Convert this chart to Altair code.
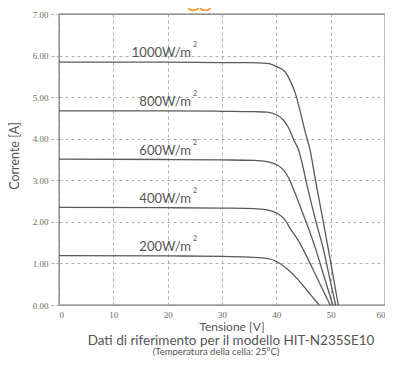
import altair as alt
import pandas as pd

# ---- data ----
irr_labels = ["1000W/m", "800W/m", "600W/m", "400W/m", "200W/m"]
isc = [5.84, 4.67, 3.50, 2.34, 1.19]

v1000 = [0, 20, 30, 35, 38.3, 40.1, 41.6, 42.5, 43.5, 44.4, 45.3, 46.2, 47.3, 48.5, 49.6, 50.5, 51.4]
i1000 = [5.84, 5.84, 5.83, 5.83, 5.81, 5.73, 5.61, 5.41, 5.09, 4.65, 4.17, 3.73, 2.93, 2.10, 1.32, 0.66, 0.0]

v800 = [0, 20, 30, 36, 38.3, 40.1, 41.3, 42.3, 43.2, 44.1, 45.7, 47.2, 48.7, 49.8, 50.9]
i800 = [4.67, 4.67, 4.66, 4.65, 4.64, 4.57, 4.45, 4.25, 3.97, 3.73, 2.85, 2.05, 1.32, 0.66, 0.0]

v600 = [0, 20, 30, 36, 38.3, 40.1, 41.3, 42.3, 43.2, 44.4, 45.9, 47.3, 48.8, 50.4]
i600 = [3.51, 3.50, 3.49, 3.48, 3.45, 3.37, 3.25, 3.05, 2.77, 2.37, 1.85, 1.32, 0.68, 0.0]

v400 = [0, 20, 30, 36, 38.3, 40.1, 41.6, 42.5, 44.0, 45.0, 47.5, 49.9]
i400 = [2.35, 2.34, 2.33, 2.32, 2.29, 2.21, 2.05, 1.85, 1.56, 1.32, 0.65, 0.0]

v200 = [0, 20, 30, 35, 38.3, 40.1, 41.9, 43.8, 45.6, 47.1, 47.9]
i200 = [1.19, 1.18, 1.17, 1.15, 1.12, 1.04, 0.88, 0.64, 0.36, 0.12, 0.0]

x_ticks = [0, 10, 20, 30, 40, 50, 60]
y_ticks = [0, 1, 2, 3, 4, 5, 6, 7]

title_text = "Dipendenza dall'irraggiamento"
x_title = "Tensione [V]"
y_title = "Corrente [A]"
caption1 = "Dati di riferimento per il modello HIT-N235SE10"
caption2 = "(Temperatura della cella: 25°C)"

# ---- build tables ----
rows = []
for name, vs, cs in zip(irr_labels, [v1000, v800, v600, v400, v200],
                        [i1000, i800, i600, i400, i200]):
    for k, (v, c) in enumerate(zip(vs, cs)):
        rows.append({"serie": name, "V": v, "I": c, "order": k})
curves = pd.DataFrame(rows)
labels = pd.DataFrame({"serie": irr_labels, "I": isc})

GRAY = "#5a5a5a"
LABEL_FONT = "Liberation Sans Narrow"
TEXT_FONT = "Lato"

xscale = alt.Scale(domain=[0, 60], nice=False, zero=False)
yscale = alt.Scale(domain=[0, 7], nice=False, zero=False)

base_x = alt.X("V:Q", scale=xscale,
               axis=alt.Axis(values=x_ticks, format="d", title=None, grid=True,
                             gridDash=[3, 3], gridColor="#9a9a9a", gridWidth=0.8,
                             ticks=False, domain=False, labelFont=LABEL_FONT,
                             labelFontSize=9, labelColor="#6a6a6a", labelPadding=5))
base_y = alt.Y("I:Q", scale=yscale,
               axis=alt.Axis(values=y_ticks, format=".2f", title=None, grid=True,
                             gridDash=[3, 3], gridColor="#9a9a9a", gridWidth=0.8,
                             ticks=True, tickDash=[3, 2], tickColor="#9a9a9a",
                             tickSize=8, tickWidth=0.8, domain=False,
                             labelFont=LABEL_FONT, labelFontSize=9,
                             labelColor="#6a6a6a", labelPadding=3))

lines = alt.Chart(curves).mark_line(color=GRAY, strokeWidth=1.3,
                                    interpolate="monotone").encode(
    x=base_x, y=base_y, detail="serie:N", order="order:Q")

lab = alt.Chart(labels).mark_text(align="right", baseline="middle", dy=-9,
                                  font=TEXT_FONT, fontSize=13,
                                  color="#555555").encode(
    x=alt.datum(24.3), y=alt.Y("I:Q", scale=yscale), text="serie:N")
sup = alt.Chart(labels).mark_text(align="left", baseline="middle", dx=2, dy=-17,
                                  font=TEXT_FONT, fontSize=7,
                                  color="#555555").encode(
    x=alt.datum(24.3), y=alt.Y("I:Q", scale=yscale), text=alt.value("2"))

def txt(text, x, y, size, color="#555555", align="center", angle=0, font=TEXT_FONT,
        baseline="middle"):
    return alt.Chart(pd.DataFrame({"t": [text]})).mark_text(
        align=align, baseline=baseline, fontSize=size, color=color, angle=angle,
        font=font).encode(x=alt.value(x), y=alt.value(y), text="t:N")

texts = [
    txt(title_text, -77, -8, 22, color="#F39221", align="left", font="Open Sans",
        baseline="alphabetic"),
    txt(x_title, 173, 312.5, 12),
    txt(caption1, 172, 326.5, 13.5),
    txt(caption2, 157, 337.5, 9.5),
    txt(y_title, -44, 142, 12.5, angle=270),
]

chart = alt.layer(lines, lab, sup, *texts).properties(
    width=326, height=291,
    padding={"left": 51, "top": 6, "right": 0, "bottom": 51},
    autosize=alt.AutoSizeParams(type="none"),
).configure_view(stroke="#707070", strokeWidth=1.3)

chart.save("out.html", embed_options={"renderer": "svg", "actions": False})
